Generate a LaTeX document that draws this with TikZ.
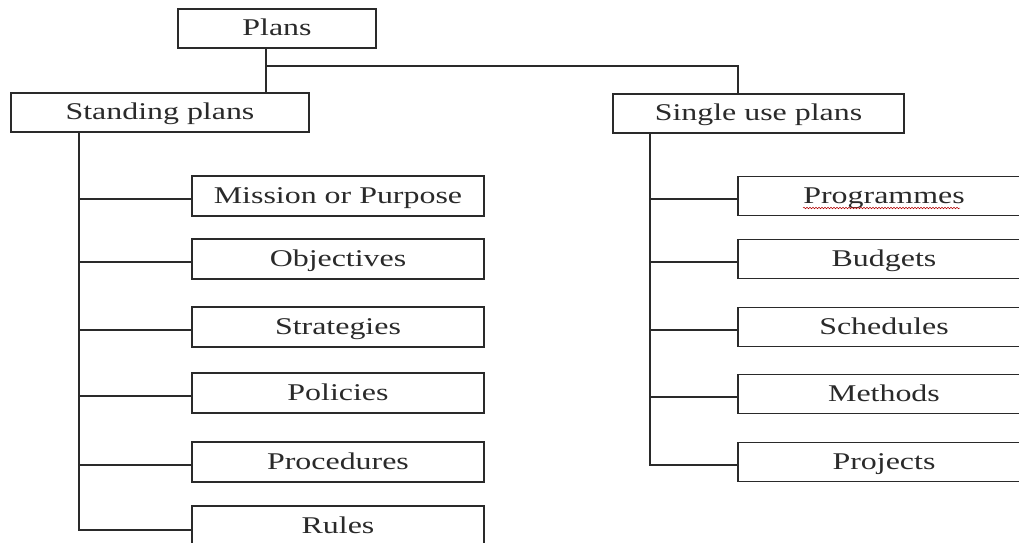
\documentclass[tikz,border=0pt]{standalone}
\usepackage{fontspec}
\setmainfont[FakeStretch=1.33]{Liberation Serif}
\usetikzlibrary{decorations.pathmorphing}
\definecolor{ink}{HTML}{2A2A2A}
\begin{document}
\begin{tikzpicture}[x=1pt,y=-1pt,
  box/.style={draw=ink,line width=1.4pt,rectangle,inner sep=0pt,text=ink,text height=16pt,text depth=2pt,font=\fontsize{24}{27}\selectfont},
  conn/.style={draw=ink,line width=1.4pt}]
\useasboundingbox (0,0) rectangle (1019,542);
\fill[white] (0,0) rectangle (1019,542);
% top level
\node[box,minimum width=198pt,minimum height=39pt] (plans) at (277,28.5) {Plans};
\node[box,minimum width=298pt,minimum height=39pt] (sp) at (160,112.5) {Standing plans};
\node[box,minimum width=291pt,minimum height=39pt] (sup) at (758.5,113.5) {Single use plans};
% left children
\foreach \n/\y/\t in {m1/196/Mission or Purpose, m2/259/Objectives, m3/327/Strategies, m4/393/Policies, m5/462/Procedures, m6/526/Rules}
  \node[box,minimum width=292pt,minimum height=40pt] (\n) at (338,\y) {\t};
% right children
\foreach \n/\y/\t in {r1/196/Programmes, r2/259/Budgets, r3/327/Schedules, r4/394/Methods, r5/462/Projects}
  \node[box,minimum width=292pt,minimum height=39pt] (\n) at (884,\y) {\t};
% spell-check underline
\draw[red!70!black,line width=0.5pt,decorate,decoration={snake,amplitude=0.8pt,segment length=3pt}] (803,208) -- (960,208);
% connectors top
\coordinate (pb) at (266,48);
\coordinate (j) at (266,66);
\coordinate (sb) at (266,93);
\coordinate (rt) at (738,66);
\coordinate (st) at (738,94);
\draw[conn] (pb) -- (sb);
\draw[conn] (j) -- (rt) -- (st);
% left trunk
\coordinate (lt) at (79,132);
\draw[conn] (lt) |- ([yshift=-4pt]m6.west);
\foreach \n in {m1,m2,m3,m4,m5}
  \draw[conn] ([yshift=-3pt]\n.west) -- ([yshift=-3pt]\n.west -| lt);
% right trunk
\coordinate (rtk) at (650,133);
\draw[conn] (rtk) |- ([yshift=-3pt]r5.west);
\foreach \n in {r1,r2,r3,r4}
  \draw[conn] ([yshift=-3pt]\n.west) -- ([yshift=-3pt]\n.west -| rtk);
\end{tikzpicture}
\end{document}
